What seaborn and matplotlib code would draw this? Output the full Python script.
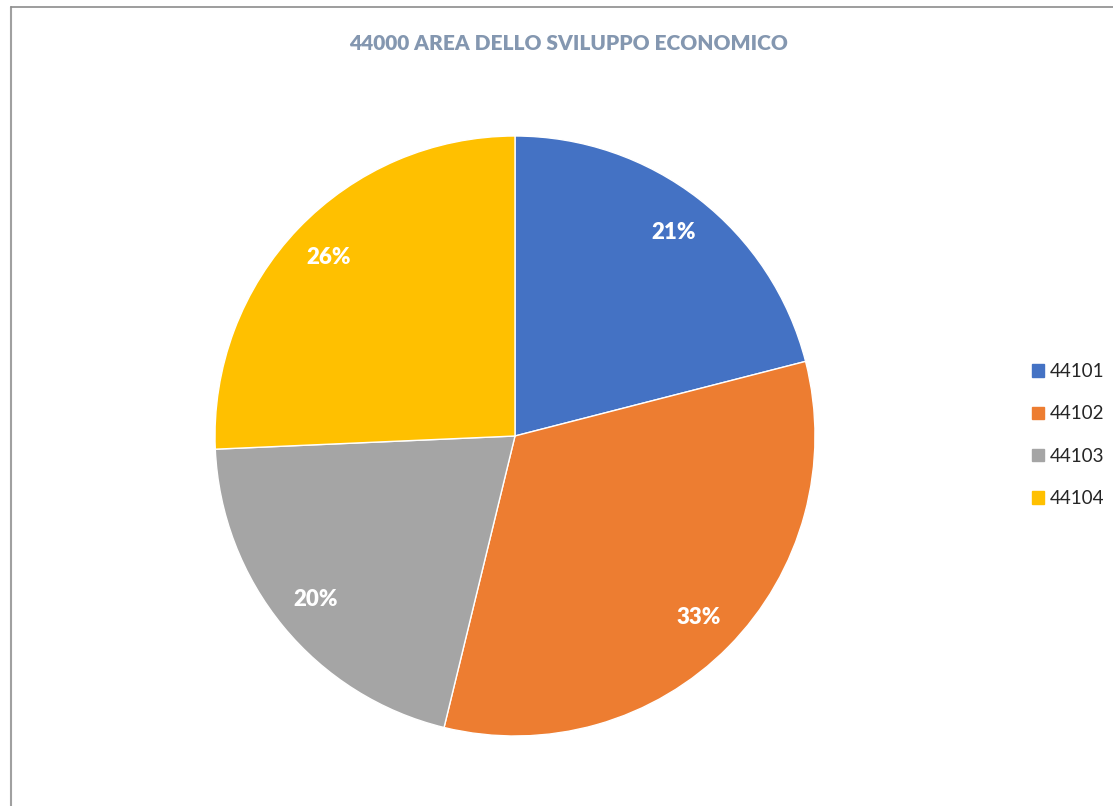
import numpy as np
import matplotlib.pyplot as plt
import matplotlib.patches as mpatches
from matplotlib.lines import Line2D
import seaborn as sns

categories = ['44101', '44102', '44103', '44104']
values = [21.0, 32.8, 20.5, 25.7]
colors = ['#4472C4', '#ED7D31', '#A5A5A5', '#FFC000']
title = '44000 AREA DELLO SVILUPPO ECONOMICO'

sns.set_theme(style='white')
plt.rcParams['font.family'] = ['Lato', 'DejaVu Sans']

fig = plt.figure(figsize=(11.13, 8.06), dpi=100)
ax = fig.add_axes([215 / 1113, 70 / 806, 600 / 1113, 600 / 806])

wedges, texts, autotexts = ax.pie(
    values, colors=colors, startangle=90, counterclock=False,
    autopct=lambda p: f'{p:.0f}%', pctdistance=0.86,
    wedgeprops=dict(edgecolor='white', linewidth=1.0),
    textprops=dict(color='white', fontsize=16, fontweight='heavy'))
ax.set_xlim(-1, 1)
ax.set_ylim(-1, 1)
ax.set_aspect('equal')

fig.text(569 / 1113, 1 - 43 / 806, title, ha='center', va='center',
         fontsize=15, fontweight='heavy', color='#8497B0')

handles = [mpatches.Patch(color=c, label=l) for c, l in zip(colors, categories)]
fig.legend(handles=handles, loc='center left', bbox_to_anchor=(1015 / 1113, 1 - 435 / 806),
           frameon=False, fontsize=13.5, handlelength=0.65, handleheight=0.65,
           handletextpad=0.3, labelspacing=1.35)

# chart border (top and left edges visible)
fig.add_artist(Line2D([11 / 1113, 11 / 1113], [0, 1 - 7 / 806], color='#A0A0A0', lw=1.5,
                      transform=fig.transFigure))
fig.add_artist(Line2D([11 / 1113, 1], [1 - 7 / 806, 1 - 7 / 806], color='#8C8C8C', lw=1.2,
                      transform=fig.transFigure))

fig.savefig('out.png', dpi=100, facecolor='white')
